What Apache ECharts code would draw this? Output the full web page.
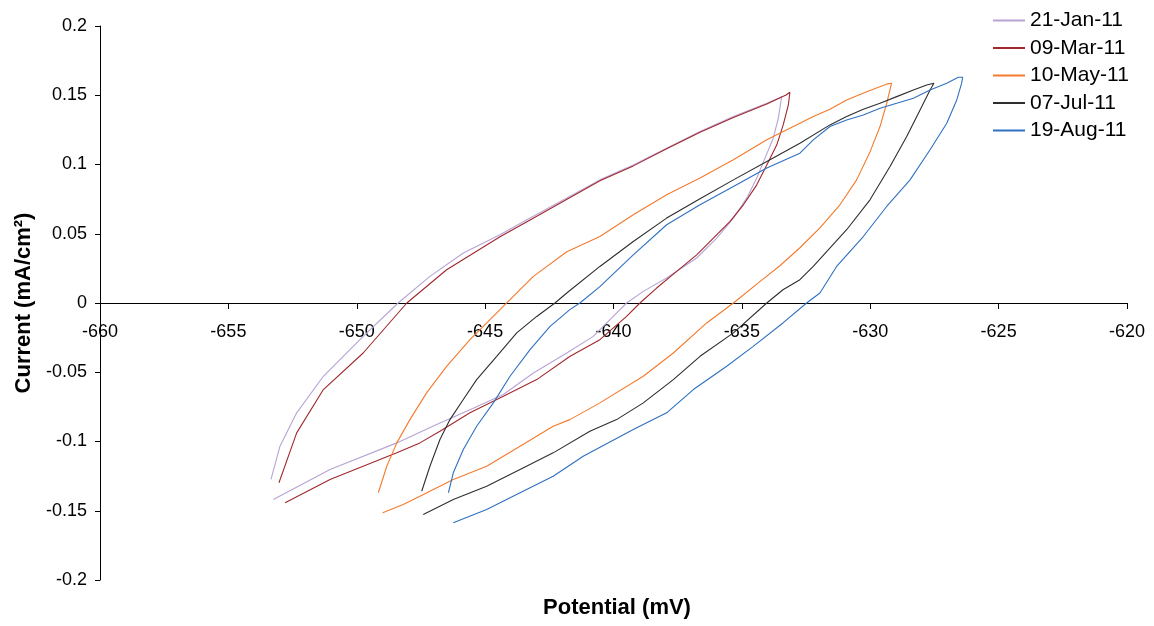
<!DOCTYPE html>
<html>
<head>
<meta charset="utf-8">
<script src="https://cdn.jsdelivr.net/npm/echarts@6/dist/echarts.min.js"></script>
<style>
html,body{margin:0;padding:0;background:#fff;}
#chart{width:1154px;height:626px;}
</style>
</head>
<body>
<div id="chart"></div>
<script>
// Series names (legend)
const seriesNames = ['21-Jan-11', '09-Mar-11', '10-May-11', '07-Jul-11', '19-Aug-11'];
const seriesColors = ['#B7A3D6', '#A0282E', '#F47A2C', '#2E2E2E', '#2F70C0'];

// 21-Jan-11: potential (mV) and current (mA/cm2), loop order
const potJan = [-653.25,-651.04,-648.44,-646.89,-645.59,-644.29,-643.12,-641.82,-640.79,-640.01,-639.49,-638.84,-637.93,-636.76,-635.98,-635.33,-634.81,-634.42,-634.10,-633.78,-633.58,-633.45,-634.03,-635.33,-636.63,-637.93,-639.23,-640.53,-643.25,-644.42,-645.85,-647.15,-648.39,-649.75,-651.30,-652.34,-652.99,-653.34];
const curJan = [-0.1419,-0.1202,-0.1010,-0.0878,-0.0770,-0.0661,-0.0505,-0.0361,-0.0241,-0.0097,0,0.0084,0.0180,0.0325,0.0469,0.0613,0.0757,0.0902,0.1046,0.1190,0.1334,0.1490,0.1442,0.1346,0.1238,0.1118,0.0997,0.0889,0.0613,0.0493,0.0361,0.0192,0,-0.0241,-0.0529,-0.0793,-0.1034,-0.1274];

// 09-Mar-11
const potMar = [-652.79,-651.04,-648.44,-647.54,-646.76,-645.59,-644.29,-642.99,-641.69,-640.53,-639.49,-638.97,-638.32,-637.54,-636.76,-636.11,-635.46,-634.94,-634.42,-634.03,-633.64,-633.39,-633.19,-633.13,-633.28,-634.03,-635.33,-636.63,-637.93,-639.23,-640.53,-643.25,-644.42,-646.50,-648.05,-649.75,-651.30,-652.34,-653.03];
const curMar = [-0.1442,-0.1274,-0.1082,-0.1010,-0.0926,-0.0793,-0.0674,-0.0553,-0.0385,-0.0265,-0.0097,0,0.0108,0.0228,0.0348,0.0469,0.0589,0.0709,0.0853,0.0997,0.1142,0.1286,0.1430,0.1522,0.1502,0.1437,0.1340,0.1232,0.1113,0.0990,0.0882,0.0600,0.0478,0.0240,0,-0.0361,-0.0625,-0.0938,-0.1298];

// 10-May-11
const potMay = [-648.99,-648.19,-647.54,-646.24,-644.94,-643.64,-642.35,-641.70,-640.53,-638.84,-637.67,-636.37,-635.33,-634.30,-633.52,-632.74,-631.96,-631.18,-630.53,-630.01,-629.62,-629.36,-629.17,-629.34,-630.14,-630.92,-631.57,-632.22,-632.74,-634.03,-635.33,-636.63,-637.93,-639.23,-640.53,-641.82,-643.12,-644.03,-644.81,-645.59,-646.50,-647.28,-647.93,-648.44,-648.83,-649.16];
const curMay = [-0.1515,-0.1455,-0.1395,-0.1274,-0.1179,-0.1034,-0.0890,-0.0842,-0.0721,-0.0529,-0.0361,-0.0144,0,0.0154,0.0269,0.0399,0.0543,0.0709,0.0889,0.1091,0.1274,0.1442,0.1587,0.1582,0.1526,0.1466,0.1399,0.1346,0.1298,0.1178,0.1034,0.0902,0.0781,0.0637,0.0480,0.0370,0.0192,0.0024,-0.0120,-0.0265,-0.0457,-0.0649,-0.0842,-0.1010,-0.1179,-0.1370];

// 07-Jul-11
const potJul = [-647.41,-646.24,-644.94,-643.64,-642.35,-640.92,-639.88,-638.84,-637.67,-636.63,-635.33,-634.03,-633.40,-632.74,-632.22,-630.92,-630.01,-629.23,-628.58,-628.06,-627.67,-627.52,-627.80,-628.32,-628.97,-629.62,-630.27,-630.92,-631.57,-632.74,-634.03,-635.33,-636.63,-637.93,-639.23,-640.53,-641.82,-642.28,-642.99,-643.77,-644.55,-645.33,-645.85,-646.37,-646.76,-647.15,-647.47];
const curJul = [-0.1527,-0.1419,-0.1323,-0.1202,-0.1082,-0.0926,-0.0842,-0.0721,-0.0553,-0.0385,-0.0216,0,0.0096,0.0168,0.0264,0.0529,0.0745,0.0985,0.1202,0.1394,0.1538,0.1587,0.1574,0.1538,0.1490,0.1442,0.1399,0.1346,0.1286,0.1154,0.1021,0.0889,0.0752,0.0613,0.0444,0.0264,0.0072,0,-0.0097,-0.0216,-0.0385,-0.0553,-0.0697,-0.0842,-0.0986,-0.1179,-0.1359];

// 19-Aug-11
const potAug = [-646.24,-644.94,-643.64,-642.35,-641.18,-639.23,-637.93,-636.89,-635.59,-634.56,-633.40,-632.48,-631.96,-631.31,-630.27,-629.36,-628.45,-627.67,-627.02,-626.63,-626.44,-626.40,-626.57,-627.02,-627.67,-628.32,-628.97,-629.62,-630.27,-630.92,-631.57,-632.22,-632.74,-634.03,-635.33,-636.63,-637.93,-639.23,-640.53,-641.31,-641.70,-642.47,-643.25,-644.03,-644.68,-645.33,-645.85,-646.24,-646.43];
const curAug = [-0.1587,-0.1491,-0.1370,-0.1251,-0.1106,-0.0914,-0.0793,-0.0625,-0.0457,-0.0313,-0.0144,0,0.0072,0.0264,0.0480,0.0697,0.0889,0.1106,0.1298,0.1466,0.1587,0.1630,0.1630,0.1587,0.1538,0.1479,0.1442,0.1406,0.1358,0.1322,0.1274,0.1178,0.1082,0.0974,0.0841,0.0709,0.0565,0.0348,0.0118,0,-0.0048,-0.0169,-0.0337,-0.0529,-0.0721,-0.0890,-0.1058,-0.1226,-0.1370];

// Axis settings
const xMin = -660, xMax = -620, xStep = 5;
const yMin = -0.2, yMax = 0.2, yStep = 0.05;
const xTitle = 'Potential (mV)';
const yTitle = 'Current (mA/cm²)';

const potentials = [potJan, potMar, potMay, potJul, potAug];
const currents = [curJan, curMar, curMay, curJul, curAug];

function zip(xs, ys) {
  const n = Math.min(xs.length, ys.length);
  const out = [];
  for (let i = 0; i < n; i++) out.push([xs[i], ys[i]]);
  return out;
}

const FONT = "'Liberation Sans', Arial, sans-serif";
const GRID = {left: 100, right: 27, top: 26, bottom: 46};
const H = 626;
// move the x axis (line, ticks, labels) up to the y = 0 level of the value scale
const plotH = H - GRID.top - GRID.bottom;
const zeroOffset = -plotH * (0 - yMin) / (yMax - yMin);

const chart = echarts.init(document.getElementById('chart'), null, {renderer: 'canvas'});
chart.setOption({
  animation: false,
  backgroundColor: '#ffffff',
  grid: Object.assign({containLabel: false}, GRID),
  legend: {
    orient: 'vertical',
    left: 988,
    top: 5,
    icon: 'rect',
    itemWidth: 32,
    itemHeight: 2,
    itemGap: 6.5,
    textStyle: {fontFamily: FONT, fontSize: 21, color: '#000', lineHeight: 21},
    data: seriesNames
  },
  xAxis: {
    type: 'value',
    min: xMin, max: xMax, interval: xStep,
    position: 'bottom',
    offset: zeroOffset,
    axisLine: {onZero: false, lineStyle: {color: '#000', width: 1}},
    axisTick: {show: true, length: 6, lineStyle: {color: '#000'}},
    axisLabel: {fontFamily: FONT, fontSize: 18, color: '#000', margin: 20},
    splitLine: {show: false}
  },
  yAxis: {
    type: 'value',
    min: yMin, max: yMax, interval: yStep,
    axisLine: {show: true, lineStyle: {color: '#000', width: 1}},
    axisTick: {show: true, length: 5, lineStyle: {color: '#000'}},
    axisLabel: {fontFamily: FONT, fontSize: 18, color: '#000', margin: 13},
    splitLine: {show: false},
    name: yTitle,
    nameLocation: 'middle',
    nameGap: 62,
    nameTextStyle: {fontFamily: FONT, fontSize: 22, fontWeight: 'bold', color: '#000'}
  },
  graphic: [{
    type: 'text',
    x: 617, y: 608,
    style: {text: xTitle, font: "bold 22px 'Liberation Sans', Arial, sans-serif", fill: '#000', align: 'center', verticalAlign: 'middle', textAlign: 'center', textVerticalAlign: 'middle'}
  }],
  series: seriesNames.map((name, i) => ({
    name: name,
    type: 'line',
    data: zip(potentials[i], currents[i]),
    showSymbol: false,
    symbol: 'none',
    color: seriesColors[i],
    lineStyle: {width: 1.1, color: seriesColors[i]},
    z: 2 + i
  }))
});
</script>
</body>
</html>
